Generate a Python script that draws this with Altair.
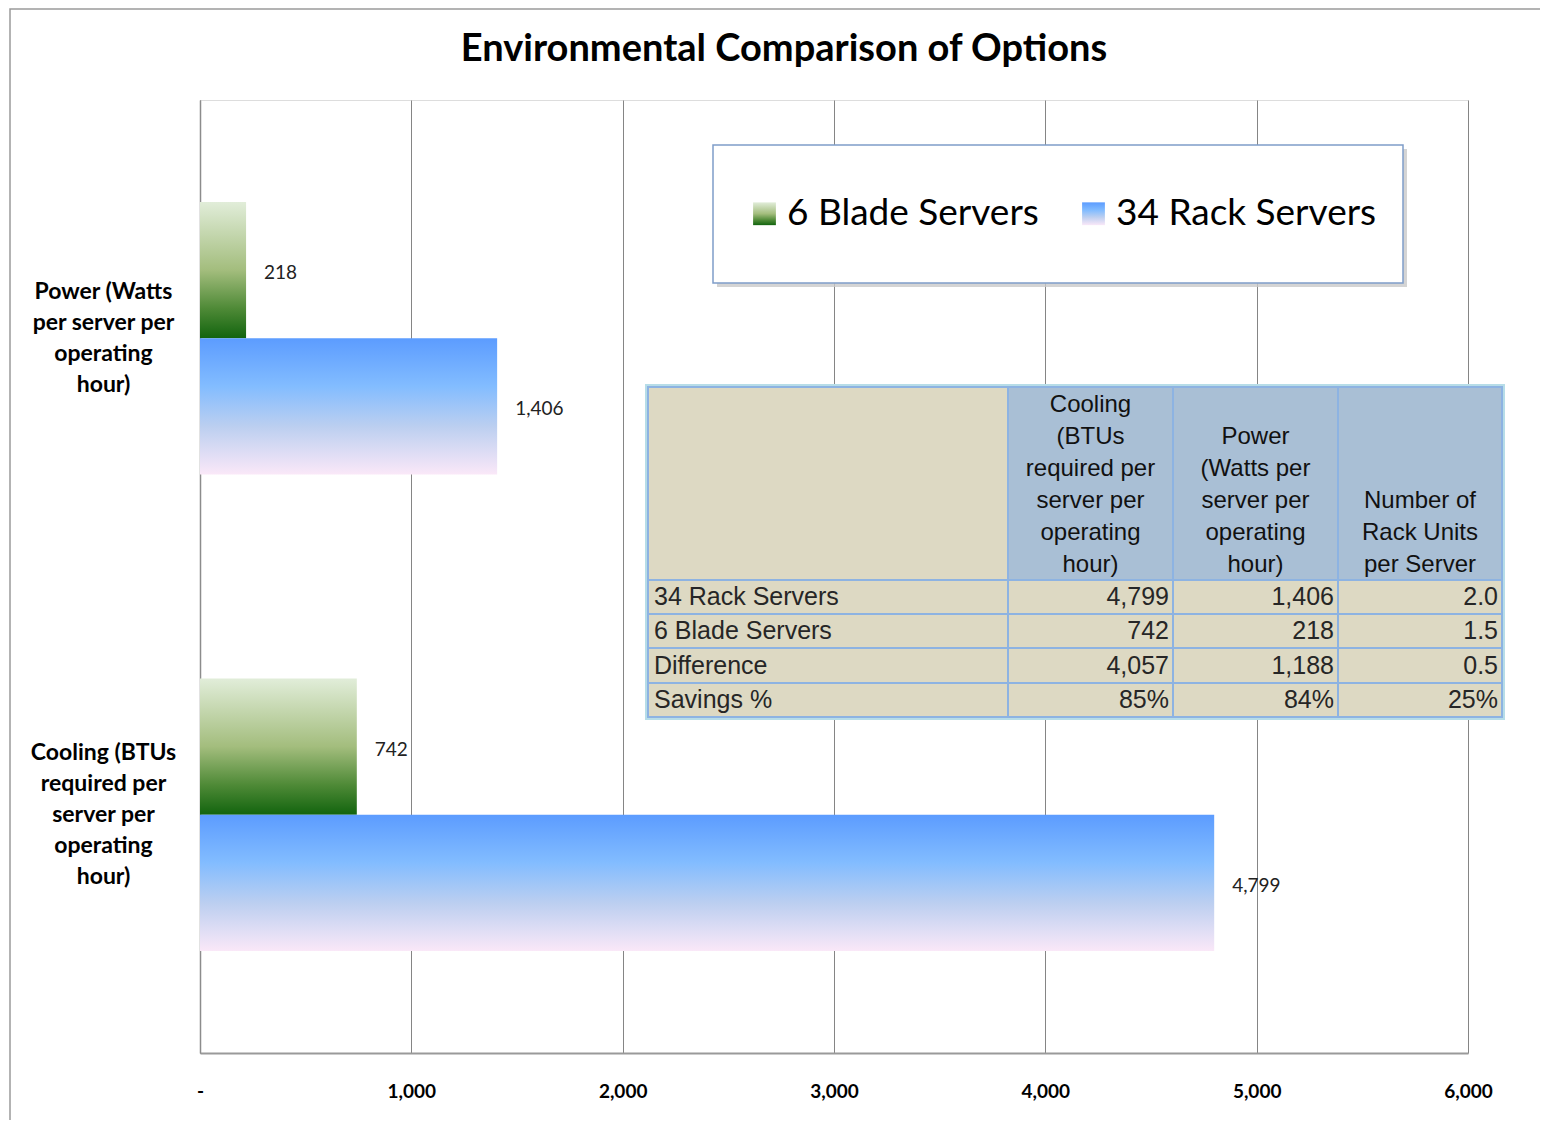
import json
import altair as alt
import pandas as pd

# ---------------- data ----------------
title_text = "Environmental Comparison of Options"
categories = [
    "Power (Watts per server per operating hour)",
    "Cooling (BTUs required per server per operating hour)",
]
category_lines = [
    ["Power (Watts", "per server per", "operating", "hour)"],
    ["Cooling (BTUs", "required per", "server per", "operating", "hour)"],
]
series = ["6 Blade Servers", "34 Rack Servers"]
blade_values = [218, 742]     # power, cooling
rack_values = [1406, 4799]    # power, cooling
x_ticks = [0, 1000, 2000, 3000, 4000, 5000, 6000]

table_headers = [
    "",
    "Cooling\n(BTUs\nrequired per\nserver per\noperating\nhour)",
    "Power\n(Watts per\nserver per\noperating\nhour)",
    "Number of\nRack Units\nper Server",
]
table_row_labels = ["34 Rack Servers", "6 Blade Servers", "Difference", "Savings %"]
table_cooling = ["4,799", "742", "4,057", "85%"]
table_power = ["1,406", "218", "1,188", "84%"]
table_rack_units = ["2.0", "1.5", "0.5", "25%"]

# ---------------- layout ----------------
W, H = 1268, 953
col_edges = [448, 808, 973, 1138, 1302]
row_edges = [287, 480, 514, 548, 583, 617]
HEAD_LH = 32
Y_LH = 31
BEIGE = "#ddd9c3"
HEADBLUE = "#a9bfd5"

green_stops = [(0, "#e1edd9"), (0.5, "#a3bd7d"), (0.78, "#4f8a37"), (1, "#12640e")]
blue_stops = [(0, "#5c9cff"), (0.35, "#82bcff"), (0.65, "#bccff0"), (1, "#fae8f8")]

rows = []
for c, s in enumerate(series):
    vals = blade_values if c == 0 else rack_values
    for i, cat in enumerate(categories):
        rows.append({"category": cat, "series": s, "value": vals[i]})
bars_df = pd.DataFrame(rows)


def make_grad(stops):
    return alt.LinearGradient(
        gradient="linear", x1=0, x2=0, y1=0, y2=1,
        stops=[alt.GradientStop(offset=o, color=col) for o, col in stops],
    )


def grad_expr(stops):
    st = ", ".join(f"{{offset: {o}, color: '{col}'}}" for o, col in stops)
    return f"{{gradient: 'linear', x1: 0, y1: 0, x2: 0, y2: 1, stops: [{st}]}}"


green_grad = make_grad(green_stops)
blue_grad = make_grad(blue_stops)

label_expr = " : ".join(
    f"datum.value == {json.dumps(cat)} ? {json.dumps(lines)}"
    for cat, lines in zip(categories[:-1], category_lines[:-1])
) + " : " + json.dumps(category_lines[-1])

# centre each multi-line label block on its band
label_offset = {
    "condition": {
        "test": f"datum.value == {json.dumps(categories[0])}",
        "value": -(len(category_lines[0]) - 1) * Y_LH / 2,
    },
    "value": -(len(category_lines[1]) - 1) * Y_LH / 2,
}

NB = "\u00a0"
x_enc = alt.X(
    "value:Q",
    scale=alt.Scale(domain=[0, 6000], nice=False),
    axis=alt.Axis(
        values=x_ticks, title=None, grid=True, gridColor="#858585", gridWidth=1,
        ticks=False, tickSize=0, labelFlush=False,
        labelExpr=f"datum.value == 0 ? '-{NB * 4}' : format(datum.value, ',')",
        labelFont="Lato", labelFontSize=19, labelFontWeight="bold",
        labelColor="black", labelPadding=29,
        domainColor="#9a9a9a", domainWidth=2,
    ),
)
y_enc = alt.Y(
    "category:N",
    scale=alt.Scale(domain=categories, paddingInner=0, paddingOuter=0),
    axis=alt.Axis(
        title=None, labelExpr=label_expr, labelFont="Lato", labelFontSize=23,
        labelFontWeight="bold", labelAlign="center", labelBaseline="middle",
        labelPadding=97, labelLineHeight=Y_LH, labelOffset=label_offset,
        ticks=False, tickSize=0,
        labelLimit=0, labelColor="black", domainColor="#8c8c8c", domainWidth=1.5,
    ),
)
yoff_enc = alt.YOffset(
    "series:N", scale=alt.Scale(domain=series, paddingOuter=0.75, paddingInner=0)
)

base = alt.Chart(bars_df).encode(x=x_enc, y=y_enc, yOffset=yoff_enc)

green_bars = base.transform_filter(alt.datum.series == series[0]).mark_bar(fill=green_grad)
blue_bars = base.transform_filter(alt.datum.series == series[1]).mark_bar(fill=blue_grad)
value_labels = base.mark_text(
    align="left", baseline="middle", dx=18, dy=3, font="Lato", fontSize=19, color="#222222"
).encode(text=alt.Text("value:Q", format=","))

legend_layer = base.mark_square(size=0, filled=True).encode(
    color=alt.Color(
        "series:N",
        scale=alt.Scale(
            domain=series,
            range=[alt.ExprRef(expr=grad_expr(green_stops)),
                   alt.ExprRef(expr=grad_expr(blue_stops))],
        ),
        legend=alt.Legend(
            orient="none", legendX=546, legendY=95, direction="horizontal",
            columns=2, title=None, labelFont="Lato", labelFontSize=37,
            labelColor="black", symbolType="square", symbolSize=520,
            symbolStrokeWidth=0, symbolOpacity=1, labelOffset=4,
            columnPadding=36, labelLimit=0,
        ),
    )
)

one = pd.DataFrame({"a": [0]})
frame = alt.Chart(one).mark_rect(fill="transparent", stroke="#9a9a9a", strokeWidth=1.5).encode(
    x=alt.value(-190), x2=alt.value(W + 200), y=alt.value(-91), y2=alt.value(H + 200)
)
title = alt.Chart(one).mark_text(
    text=title_text, font="Lato", fontSize=38, fontWeight="bold", color="black",
    align="center", baseline="middle",
).encode(x=alt.value(584), y=alt.value(-50))
legend_shadow = alt.Chart(one).mark_rect(fill="#c9c9c9", opacity=0.8).encode(
    x=alt.value(517), x2=alt.value(1207), y=alt.value(49), y2=alt.value(187)
)
legend_box = alt.Chart(one).mark_rect(fill="white", stroke="#7f9dc9", strokeWidth=1.5).encode(
    x=alt.value(513), x2=alt.value(1203), y=alt.value(45), y2=alt.value(183)
)

# table cells
cells = []
texts = []
col_values = [table_row_labels, table_cooling, table_power, table_rack_units]
for r in range(5):
    for c in range(4):
        x0, x1 = col_edges[c], col_edges[c + 1]
        y0, y1 = row_edges[r], row_edges[r + 1]
        fill = HEADBLUE if (r == 0 and c > 0) else BEIGE
        cells.append({"x0": x0, "x1": x1, "y0": y0, "y1": y1, "fill": fill})
        if r == 0:
            if table_headers[c]:
                n = table_headers[c].count("\n") + 1
                last_center = y1 - 15
                texts.append({"kind": "head", "x": (x0 + x1) / 2,
                              "y": last_center - (n - 1) * HEAD_LH,
                              "text": table_headers[c]})
        else:
            t = col_values[c][r - 1]
            if c == 0:
                texts.append({"kind": "left", "x": x0 + 6, "y": (y0 + y1) / 2, "text": t})
            else:
                texts.append({"kind": "right", "x": x1 - 4, "y": (y0 + y1) / 2, "text": t})
cells_df = pd.DataFrame(cells)
texts_df = pd.DataFrame(texts)

table_outer = alt.Chart(one).mark_rect(fill="#b7dde8").encode(
    x=alt.value(col_edges[0] - 3), x2=alt.value(col_edges[-1] + 3),
    y=alt.value(row_edges[0] - 3), y2=alt.value(row_edges[-1] + 3),
)
table_cells = alt.Chart(cells_df).mark_rect(stroke="#8db3e2", strokeWidth=2).encode(
    x=alt.X("x0:Q", scale=None, axis=None), x2="x1:Q",
    y=alt.Y("y0:Q", scale=None, axis=None), y2="y1:Q",
    fill=alt.Fill("fill:N", scale=None),
)
tbase = alt.Chart(texts_df).encode(
    x=alt.X("x:Q", scale=None, axis=None), y=alt.Y("y:Q", scale=None, axis=None),
    text="text:N",
)
head_text = tbase.transform_filter(alt.datum.kind == "head").mark_text(
    align="center", baseline="middle", lineBreak="\n", lineHeight=HEAD_LH,
    font="Liberation Sans", fontSize=24, color="#111111",
)
left_text = tbase.transform_filter(alt.datum.kind == "left").mark_text(
    align="left", baseline="middle", font="Liberation Sans", fontSize=25, color="#262626"
)
right_text = tbase.transform_filter(alt.datum.kind == "right").mark_text(
    align="right", baseline="middle", font="Liberation Sans", fontSize=25, color="#262626"
)

chart = alt.layer(
    frame, title, legend_shadow, legend_box, green_bars, blue_bars, value_labels,
    table_outer, table_cells, head_text, left_text, right_text, legend_layer,
).properties(
    width=W, height=H,
    autosize=alt.AutoSizeParams(type="none"),
    padding={"left": 192, "top": 92, "right": 72, "bottom": 67},
).configure_view(stroke=None).configure(background="white")

chart.save("out.html", embed_options={"renderer": "svg", "actions": False})
